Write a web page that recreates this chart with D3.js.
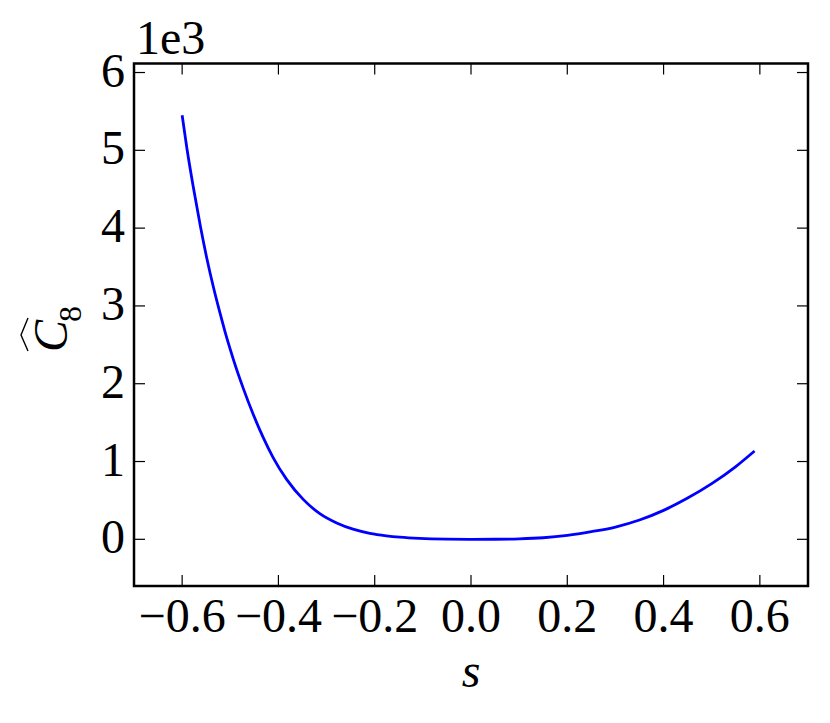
<!DOCTYPE html>
<html>
<head>
<meta charset="utf-8">
<script src="https://cdn.jsdelivr.net/npm/d3@7/dist/d3.min.js"></script>
<style>
  html, body { margin: 0; padding: 0; background: #fff; }
  svg { display: block; }
</style>
</head>
<body>
<svg id="chart" width="830" height="723"></svg>
<script>
// ---- data ----
const sValues = [-0.600, -0.590, -0.576, -0.562, -0.549, -0.535, -0.521, -0.511, -0.502, -0.493,
                 -0.473, -0.452, -0.431, -0.411, -0.383, -0.348, -0.314, -0.279, -0.245, -0.210,
                 -0.176, -0.148, -0.107, -0.050, 0.000, 0.050, 0.100, 0.150, 0.200, 0.250,
                 0.300, 0.350, 0.400, 0.450, 0.500, 0.550, 0.589];
const c8Values = [5450, 5020, 4500, 4020, 3620, 3240, 2900, 2670, 2480, 2300,
                  1940, 1600, 1300, 1050, 770, 510, 330, 210, 130, 77,
                  45, 27, 11, 2, 0, 1, 6, 20, 50, 98,
                  158, 248, 372, 530, 715, 935, 1135];
const xTicks = [-0.6, -0.4, -0.2, 0.0, 0.2, 0.4, 0.6];
const yTicks = [0, 1000, 2000, 3000, 4000, 5000, 6000];
const xDomain = [-0.7, 0.7];
const yDomain = [-600, 6116];
const offsetLabel = "1e3";

// ---- layout ----
const svg = d3.select("#chart");
const L = 134, R = 808, T = 63.5, B = 586;
const x = d3.scaleLinear().domain(xDomain).range([L, R]);
const y = d3.scaleLinear().domain(yDomain).range([B, T]);
const font = "'Liberation Serif', 'Times New Roman', serif";
const fs = 48;
const tickLen = 11;

const data = sValues.map((s, i) => ({s, v: c8Values[i]}));

// clip
svg.append("clipPath").attr("id", "clip")
  .append("rect").attr("x", L).attr("y", T).attr("width", R - L).attr("height", B - T);

// line
const line = d3.line().x(d => x(d.s)).y(d => y(d.v)).curve(d3.curveMonotoneX);
svg.append("path").datum(data)
  .attr("clip-path", "url(#clip)")
  .attr("fill", "none").attr("stroke", "#0000ff").attr("stroke-width", 2.8)
  .attr("d", line);

// ticks (inward on all sides)
const tickG = svg.append("g").attr("stroke", "#000").attr("stroke-width", 1.2);
xTicks.forEach(t => {
  tickG.append("line").attr("x1", x(t)).attr("x2", x(t)).attr("y1", B).attr("y2", B - tickLen);
  tickG.append("line").attr("x1", x(t)).attr("x2", x(t)).attr("y1", T).attr("y2", T + tickLen);
});
yTicks.forEach(t => {
  tickG.append("line").attr("x1", L).attr("x2", L + tickLen).attr("y1", y(t)).attr("y2", y(t));
  tickG.append("line").attr("x1", R).attr("x2", R - tickLen).attr("y1", y(t)).attr("y2", y(t));
});

// frame
svg.append("rect").attr("x", L).attr("y", T).attr("width", R - L).attr("height", B - T)
  .attr("fill", "none").attr("stroke", "#000").attr("stroke-width", 2.5);

// tick labels
const fmtX = d => (d < 0 ? "\u2212" : "") + Math.abs(d).toFixed(1);
svg.append("g").selectAll("text").data(xTicks).join("text")
  .attr("x", d => x(d)).attr("y", 632)
  .attr("text-anchor", "middle")
  .attr("font-family", font).attr("font-size", fs)
  .text(fmtX);
svg.append("g").selectAll("text").data(yTicks).join("text")
  .attr("x", 125).attr("y", d => y(d) + 14)
  .attr("text-anchor", "end")
  .attr("font-family", font).attr("font-size", fs)
  .text(d => d3.format("d")(d / 1000));

// offset text
svg.append("text").attr("x", 136).attr("y", 54)
  .attr("font-family", font).attr("font-size", fs)
  .text(offsetLabel);

// x label
svg.append("text").attr("x", 471).attr("y", 687)
  .attr("text-anchor", "middle")
  .attr("font-family", font).attr("font-size", fs).attr("font-style", "italic")
  .text("s");

// y label: hat C with subscript 8
const yl = svg.append("g").attr("transform", "translate(67,352) rotate(-90)");
yl.append("text").attr("x", 0).attr("y", 0)
  .attr("font-family", font).attr("font-size", fs).attr("font-style", "italic")
  .text("C");
yl.append("text").attr("x", 30).attr("y", 14)
  .attr("font-family", font).attr("font-size", 32)
  .text("8");
yl.append("path")
  .attr("d", "M1,-39 L17,-46 L34,-39")
  .attr("fill", "none").attr("stroke", "#000").attr("stroke-width", 1.4);
</script>
</body>
</html>
